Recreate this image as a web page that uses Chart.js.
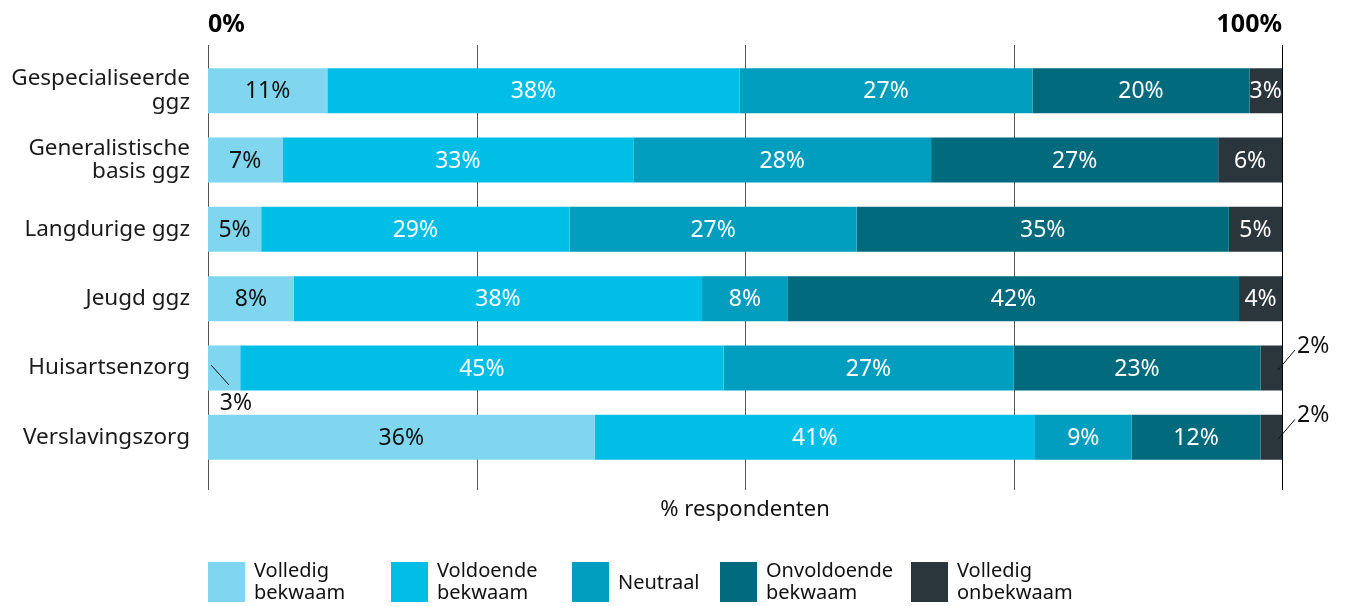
<!DOCTYPE html>
<html>
<head>
<meta charset="utf-8">
<script src="https://cdn.jsdelivr.net/npm/chart.js@4/dist/chart.umd.min.js"></script>
<style>
  body { margin: 0; background: #fff; }
</style>
</head>
<body>
<canvas id="myChart" width="1346" height="606"></canvas>
<script>
// sectors (rows of the chart)
var sectors = [
    ['Gespecialiseerde', 'ggz'],
    ['Generalistische', 'basis ggz'],
    'Langdurige ggz',
    'Jeugd ggz',
    'Huisartsenzorg',
    'Verslavingszorg'
];

// answer categories, two lines each for the legend
var answers = [
    ['Volledig', 'bekwaam'],
    ['Voldoende', 'bekwaam'],
    ['Neutraal'],
    ['Onvoldoende', 'bekwaam'],
    ['Volledig', 'onbekwaam']
];

// % respondenten per answer, one value per sector
var volledigBekwaam   = [11, 7, 5, 8, 3, 36];
var voldoendeBekwaam  = [38, 33, 29, 38, 45, 41];
var neutraal          = [27, 28, 27, 8, 27, 9];
var onvoldoende       = [20, 27, 35, 42, 23, 12];
var volledigOnbekwaam = [3, 6, 5, 4, 2, 2];

var axisTicks = [0, 25, 50, 75, 100];

var series = [volledigBekwaam, voldoendeBekwaam, neutraal, onvoldoende, volledigOnbekwaam];
var colors = ['#80d6ef', '#00bee6', '#009dbe', '#016a7c', '#2b353c'];
var textColors = ['#111', '#fff', '#fff', '#fff', '#fff'];

var FONT = "'Noto Sans', sans-serif";

// rounded percentages don't always add up to 100, so scale each row to fill the bar
var rowTotals = sectors.map(function (s, i) {
    var t = 0;
    series.forEach(function (arr) { t += arr[i]; });
    return t;
});

var datasets = series.map(function (arr, d) {
    return {
        label: answers[d].join(' '),
        data: arr.map(function (v, i) { return v / rowTotals[i] * 100; }),
        raw: arr,
        backgroundColor: colors[d],
        borderWidth: 0,
        barPercentage: 0.65,
        categoryPercentage: 1
    };
});

// vertical reference lines, drawn behind the bars
var gridPlugin = {
    id: 'gridLines',
    beforeDatasetsDraw: function (chart) {
        var ctx = chart.ctx, x = chart.scales.x;
        ctx.save();
        axisTicks.forEach(function (v, i) {
            var px = Math.round(x.getPixelForValue(v)) + 0.5;
            ctx.strokeStyle = i === axisTicks.length - 1 ? '#000' : '#555';
            ctx.lineWidth = 1;
            ctx.beginPath();
            ctx.moveTo(px, 45);
            ctx.lineTo(px, 490);
            ctx.stroke();
        });
        ctx.restore();
    }
};

// percentage labels on the segments, the thinnest ones pulled out with a leader line
var labelPlugin = {
    id: 'segmentLabels',
    afterDatasetsDraw: function (chart) {
        var ctx = chart.ctx;
        ctx.save();
        ctx.font = '23px ' + FONT;
        ctx.textBaseline = 'middle';
        chart.data.datasets.forEach(function (ds, d) {
            var meta = chart.getDatasetMeta(d);
            meta.data.forEach(function (bar, i) {
                var v = ds.raw[i];
                var txt = v + '%';
                var left = Math.min(bar.x, bar.base), right = Math.max(bar.x, bar.base);
                var outside = v <= 2 || (d === 0 && v <= 3);
                if (!outside) {
                    ctx.fillStyle = textColors[d];
                    ctx.textAlign = 'center';
                    ctx.fillText(txt, (left + right) / 2, bar.y + 1);
                    return;
                }
                ctx.strokeStyle = '#111';
                ctx.lineWidth = 1;
                ctx.fillStyle = '#111';
                ctx.beginPath();
                if (d === 0) {
                    ctx.moveTo(left + 3, bar.y - 3);
                    ctx.lineTo(left + 21, bar.y + 17);
                    ctx.stroke();
                    ctx.textAlign = 'center';
                    ctx.fillText(txt, left + 28, bar.y + 35);
                } else {
                    ctx.moveTo(right - 4, bar.y + 2);
                    ctx.lineTo(right + 13, bar.y - 18);
                    ctx.stroke();
                    ctx.textAlign = 'left';
                    ctx.fillText(txt, right + 15, bar.y - 22);
                }
            });
        });
        ctx.restore();
    }
};

// axis title and legend underneath
var footerPlugin = {
    id: 'footer',
    afterDraw: function (chart) {
        var ctx = chart.ctx, x = chart.scales.x;
        ctx.save();
        ctx.fillStyle = '#111';
        ctx.font = '22px ' + FONT;
        ctx.textAlign = 'center';
        ctx.textBaseline = 'middle';
        ctx.fillText('% respondenten', x.getPixelForValue(50), 510);

        var boxX = [208, 391, 572, 720, 911];
        ctx.font = '20px ' + FONT;
        ctx.textAlign = 'left';
        answers.forEach(function (lines, d) {
            ctx.fillStyle = colors[d];
            ctx.fillRect(boxX[d], 562, 37, 40);
            ctx.fillStyle = '#111';
            if (lines.length === 1) {
                ctx.fillText(lines[0], boxX[d] + 46, 583);
            } else {
                ctx.fillText(lines[0], boxX[d] + 46, 571);
                ctx.fillText(lines[1], boxX[d] + 46, 593);
            }
        });
        ctx.restore();
    }
};

var ctx = document.getElementById('myChart').getContext('2d');
var chart = new Chart(ctx, {
    type: 'bar',
    data: {
        labels: sectors,
        datasets: datasets
    },
    options: {
        indexAxis: 'y',
        responsive: false,
        animation: false,
        devicePixelRatio: 1,
        layout: { padding: { left: 0, right: 64, top: 0, bottom: 134 } },
        plugins: {
            legend: { display: false },
            tooltip: { enabled: false }
        },
        scales: {
            x: {
                position: 'top',
                stacked: true,
                min: 0,
                max: 100,
                afterBuildTicks: function (scale) {
                    scale.ticks = axisTicks.map(function (v) { return { value: v }; });
                },
                afterFit: function (scale) { scale.height = 56; },
                grid: { display: false },
                border: { display: false },
                ticks: {
                    align: 'inner',
                    maxRotation: 0,
                    padding: 8,
                    color: '#000',
                    font: { family: FONT, size: 25, weight: 'bold' },
                    callback: function (v) { return (v === 0 || v === 100) ? v + '%' : ''; }
                }
            },
            y: {
                stacked: true,
                afterFit: function (scale) { scale.width = 208; },
                grid: { display: false },
                border: { display: false },
                ticks: {
                    padding: 10,
                    color: '#1a1a1a',
                    font: { family: FONT, size: 22.5, lineHeight: 1.05 }
                }
            }
        }
    },
    plugins: [gridPlugin, labelPlugin, footerPlugin]
});
</script>
</body>
</html>
